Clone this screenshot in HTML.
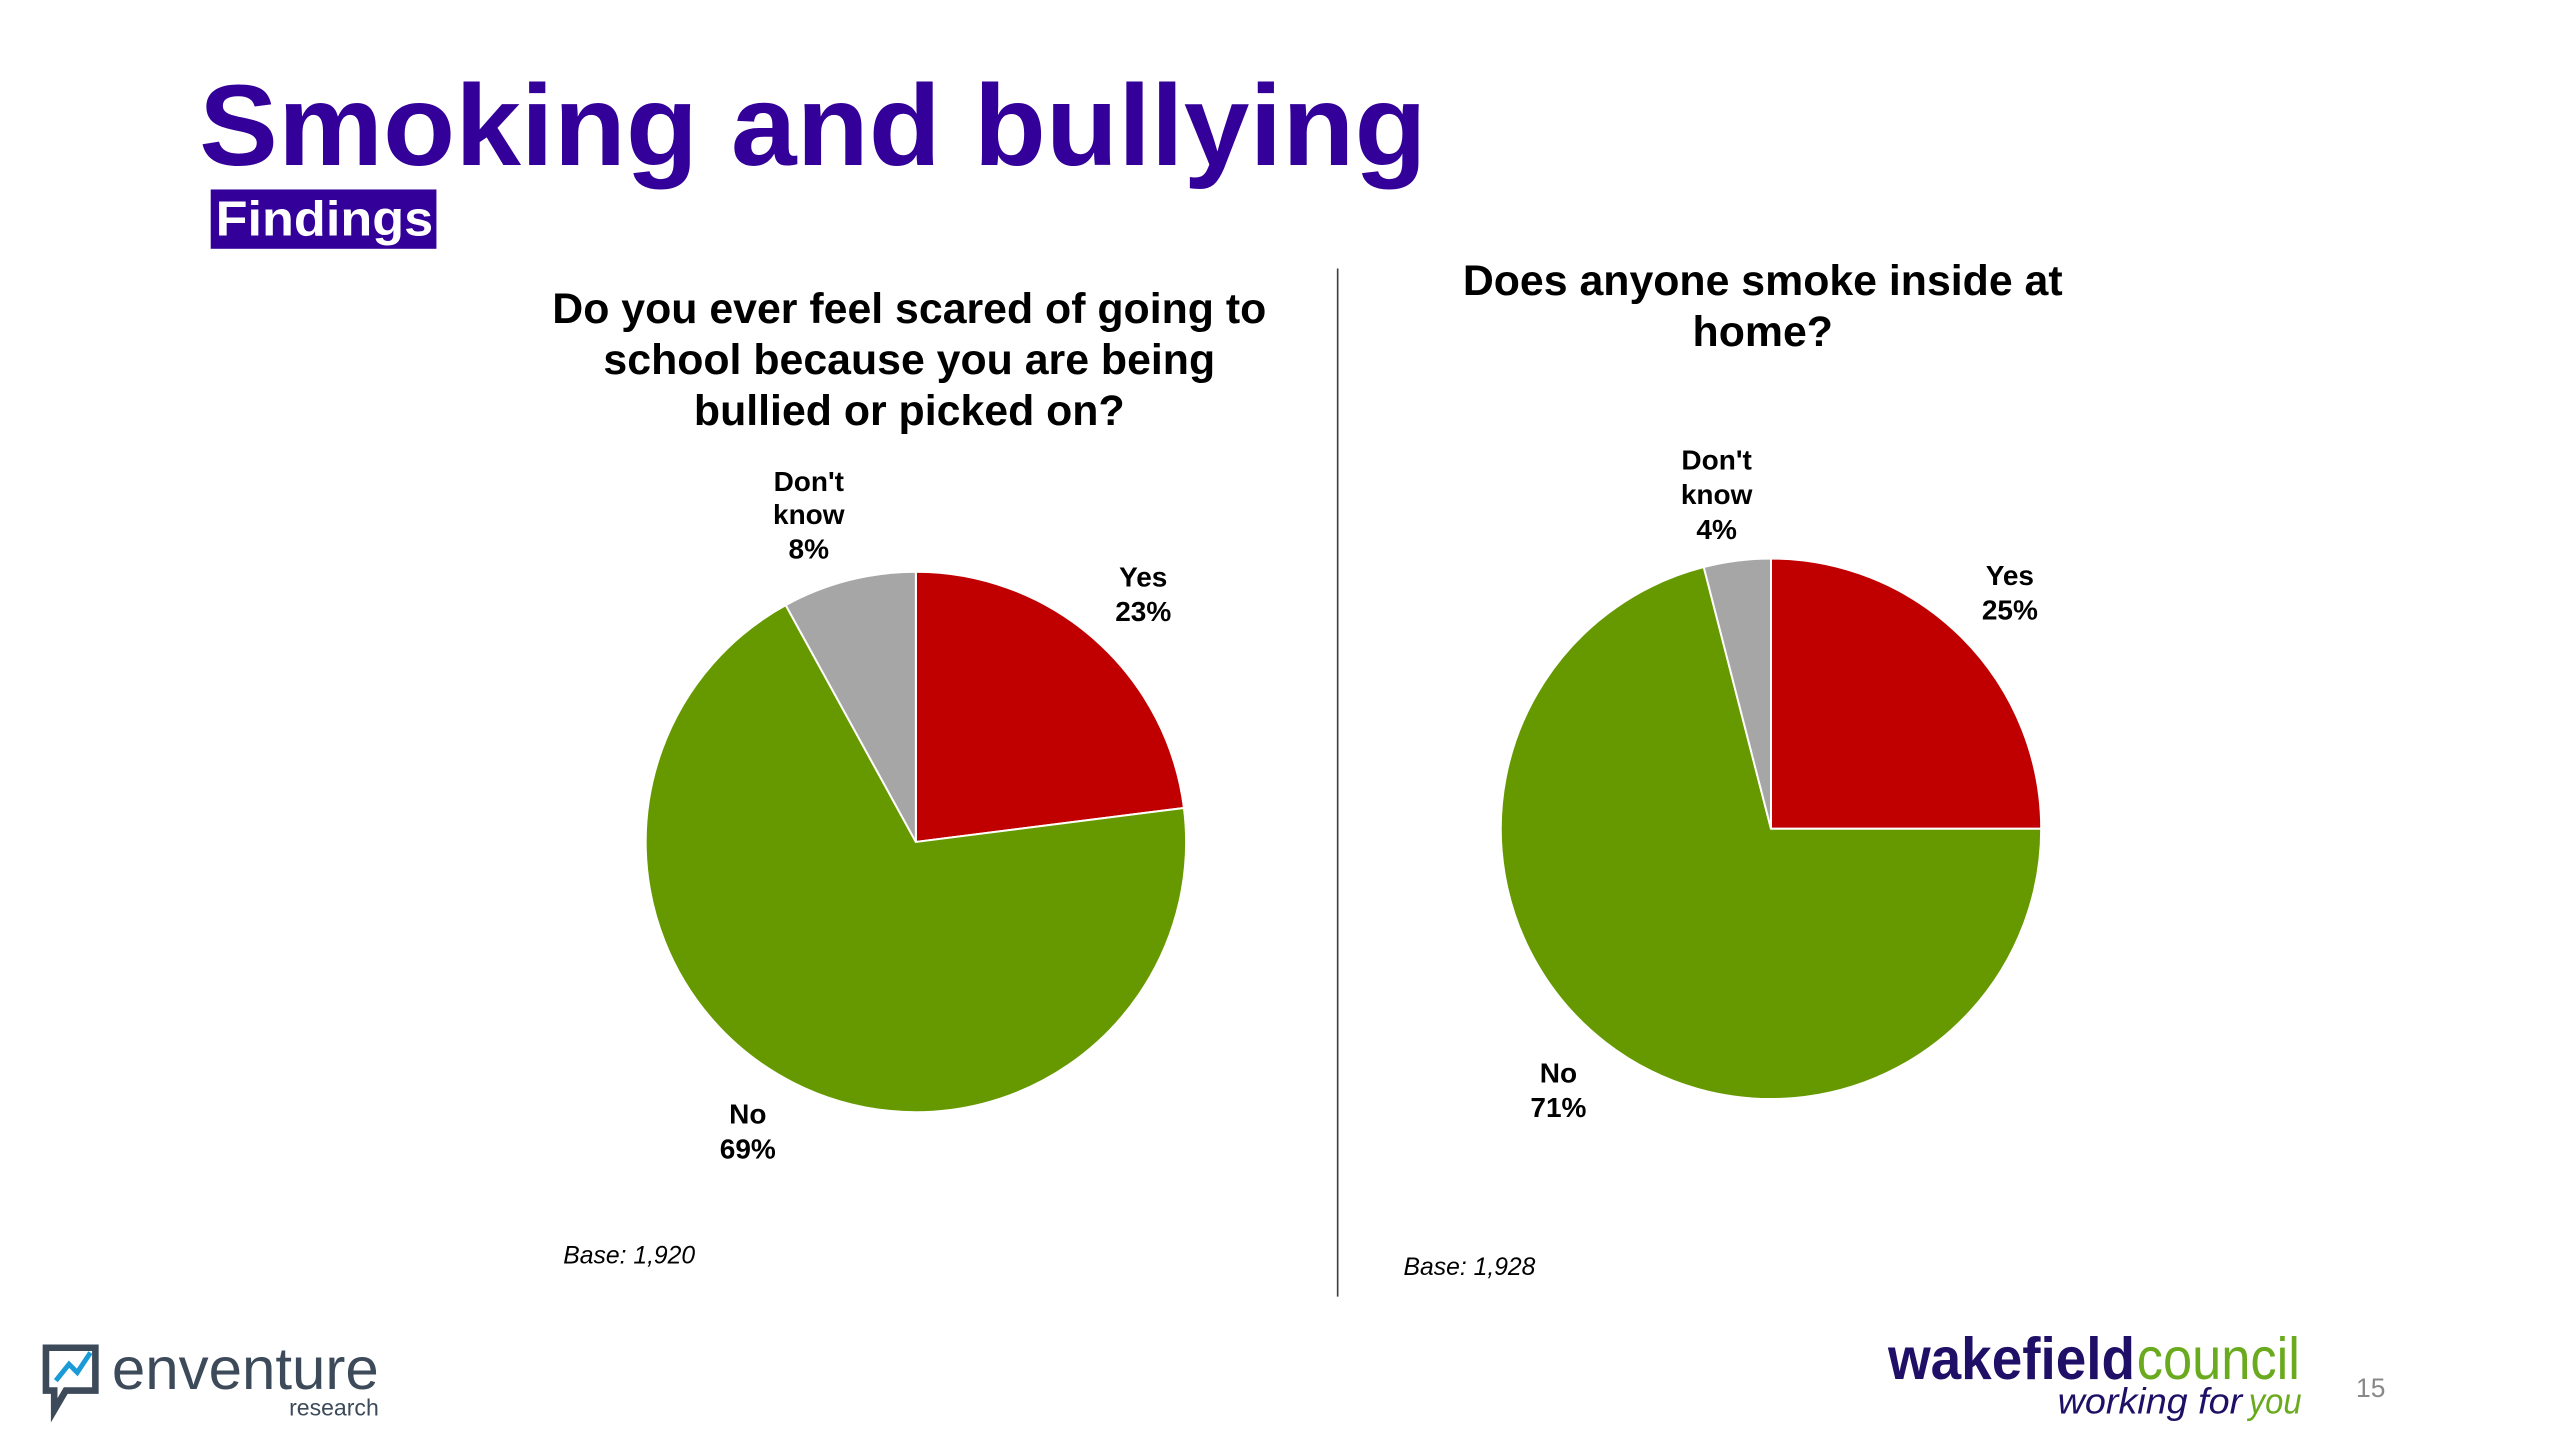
<!DOCTYPE html>
<html><head><meta charset="utf-8"><style>
html,body{margin:0;padding:0;background:#fff;}
svg{display:block;}
</style></head><body>
<svg width="2560" height="1440" viewBox="0 0 1552 874" xmlns="http://www.w3.org/2000/svg" font-family="Liberation Sans, Arial, sans-serif">
<rect width="1552" height="874" fill="#fff"/>
<text x="120" y="100" font-size="70" font-weight="bold" fill="#330099" textLength="745" lengthAdjust="spacingAndGlyphs">Smoking and bullying</text>
<rect x="127" y="115" width="137" height="36" fill="#330099"/>
<text x="130" y="143" font-size="30" font-weight="bold" fill="#fff" textLength="132" lengthAdjust="spacingAndGlyphs">Findings</text>
<g font-size="26" font-weight="bold" fill="#000" text-anchor="middle">
<text x="551" y="196">Do you ever feel scared of going to</text>
<text x="551" y="227">school because you are being</text>
<text x="551" y="258">bullied or picked on?</text>
<text x="1069" y="179">Does anyone smoke inside at</text>
<text x="1069" y="210">home?</text>
</g>
<line x1="811" y1="163" x2="811" y2="787" stroke="#404040" stroke-width="1"/>
<g stroke="#fff" stroke-width="1.2">
<path d="M555,511 L555,347 A164,164 0 0 1 717.7,490.4 Z" fill="#C00000"/>
<path d="M555,511 L717.7,490.4 A164,164 0 1 1 476,367.3 Z" fill="#669900"/>
<path d="M555,511 L476,367.3 A164,164 0 0 1 555,347 Z" fill="#A6A6A6"/>
<path d="M1074,503 L1074,339 A164,164 0 0 1 1238,503 Z" fill="#C00000"/>
<path d="M1074,503 L1238,503 A164,164 0 1 1 1033.2,344.2 Z" fill="#669900"/>
<path d="M1074,503 L1033.2,344.2 A164,164 0 0 1 1074,339 Z" fill="#A6A6A6"/>
</g>
<g font-size="17" font-weight="bold" fill="#000" text-anchor="middle">
<text x="490" y="298">Don't</text><text x="490" y="318">know</text><text x="490" y="339">8%</text>
<text x="693" y="356">Yes</text><text x="693" y="377">23%</text>
<text x="453" y="682">No</text><text x="453" y="703">69%</text>
<text x="1041" y="285">Don't</text><text x="1041" y="306">know</text><text x="1041" y="327">4%</text>
<text x="1219" y="355">Yes</text><text x="1219" y="376">25%</text>
<text x="945" y="657">No</text><text x="945" y="678">71%</text>
</g>
<text x="341" y="767" font-size="15" font-style="italic" fill="#000">Base: 1,920</text>
<text x="851" y="774" font-size="15" font-style="italic" fill="#000">Base: 1,928</text>
<path d="M27,818 h30 v26 h-18 l-7,12 v-12 h-5 z" fill="none" stroke="#3d4a5a" stroke-width="4"/>
<path d="M33,838 l8,-10 l5,5 l8,-12" fill="none" stroke="#1a9ad6" stroke-width="3"/>
<text x="67" y="843" font-size="36" fill="#3d4a5a" textLength="162" lengthAdjust="spacingAndGlyphs">enventure</text>
<text x="229" y="859" font-size="14" fill="#3d4a5a" text-anchor="end">research</text>
<text x="1145" y="837" font-size="36" font-weight="bold" fill="#1f0f66" textLength="150" lengthAdjust="spacingAndGlyphs">wakefield</text>
<text x="1296" y="837" font-size="36" fill="#6aaa1e" textLength="99" lengthAdjust="spacingAndGlyphs">council</text>
<text x="1248" y="858" font-size="22" font-style="italic" fill="#1f0f66" textLength="112" lengthAdjust="spacingAndGlyphs">working for</text>
<text x="1364" y="858" font-size="22" font-style="italic" fill="#6aaa1e" textLength="32" lengthAdjust="spacingAndGlyphs">you</text>
<text x="1438" y="848" font-size="16" fill="#888" text-anchor="middle">15</text>
</svg>
</body></html>
